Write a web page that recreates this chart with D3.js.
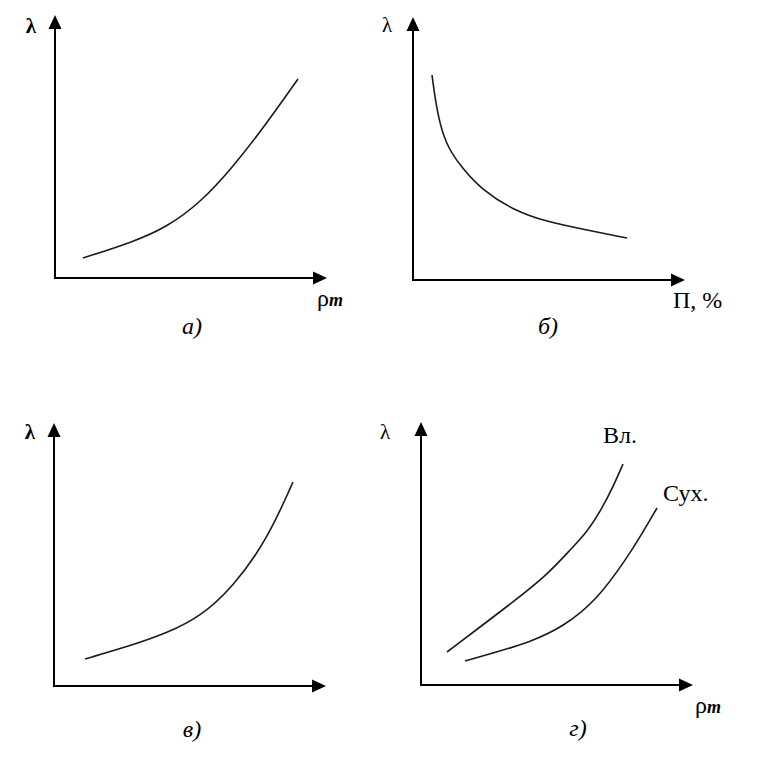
<!DOCTYPE html>
<html><head><meta charset="utf-8">
<script src="https://cdn.jsdelivr.net/npm/d3@7/dist/d3.min.js"></script>
<style>body{margin:0;background:#fff}svg{display:block}</style>
</head><body><div id="chart"></div>
<script>
// Data (arbitrary units, 0..10 on each axis)
const curveA_x = [1.12, 3.12, 4.48, 5.8, 7.12, 8.48, 9.72];
const curveA_y = [0.8, 1.44, 2.04, 3.0, 4.44, 6.2, 7.96];
const curveB_x = [0.76, 0.88, 1.08, 1.4, 1.96, 2.76, 4.0, 5.36, 6.96, 8.56];
const curveB_y = [8.2, 7.28, 6.2, 5.28, 4.48, 3.6, 2.8, 2.32, 2.0, 1.68];
const curveV_x = [1.24, 3.16, 4.52, 5.84, 7.16, 8.52, 9.56];
const curveV_y = [1.08, 1.64, 2.12, 2.76, 3.96, 5.84, 8.16];
const curveWet_x = [1.04, 2.36, 3.68, 5.04, 5.96, 6.64, 7.16, 7.68, 8.08];
const curveWet_y = [1.32, 2.32, 3.32, 4.4, 5.4, 6.12, 6.92, 7.92, 8.84];
const curveDry_x = [1.76, 3.04, 4.36, 5.68, 7.04, 8.24, 8.88, 9.44];
const curveDry_y = [0.96, 1.32, 1.72, 2.32, 3.4, 5.08, 6.12, 7.08];
const panelCaptions = ["а)", "б)", "в)", "г)"];
const yAxisLabels = ["λ", "λ", "λ", "λ"];
const seriesLabels = ["Вл.", "Сух."];

const W = 762, H = 761;
const svg = d3.select("#chart").append("svg").attr("width", W).attr("height", H);

const zip = (xs, ys) => xs.map((x, i) => [x, ys[i]]);

const panels = [
  {ox: 55, oy: 278, curves: [zip(curveA_x, curveA_y)], xLabel: "rho", caption: panelCaptions[0], capX: 192, capY: 334, lamX: 31, lamY: 33, lamBold: true, xlX: 317, xlY: 306},
  {ox: 413, oy: 280, curves: [zip(curveB_x, curveB_y)], xLabel: "P", caption: panelCaptions[1], capX: 548, capY: 334, lamX: 387, lamY: 32, lamBold: false, xlX: 673, xlY: 308},
  {ox: 54, oy: 686, curves: [zip(curveV_x, curveV_y)], xLabel: null, caption: panelCaptions[2], capX: 192, capY: 737, lamX: 30, lamY: 439, lamBold: true},
  {ox: 421, oy: 685, curves: [zip(curveWet_x, curveWet_y), zip(curveDry_x, curveDry_y)], xLabel: "rho", caption: panelCaptions[3], capX: 578, capY: 736, lamX: 385, lamY: 439, lamBold: false, xlX: 695, xlY: 713,
   series: [{t: seriesLabels[0], x: 603, y: 443}, {t: seriesLabels[1], x: 663, y: 501}]}
];

const xLen = 272, yLen = 263, unit = 25;
const serif = "'Liberation Serif', 'Times New Roman', serif";

panels.forEach((p, idx) => {
  const x = d3.scaleLinear().domain([0, 10]).range([p.ox, p.ox + 10 * unit]);
  const y = d3.scaleLinear().domain([0, 10]).range([p.oy, p.oy - 10 * unit]);
  const g = svg.append("g");

  // axes
  const tipX = p.ox + xLen, tipY = p.oy - yLen, ah = 14, hw = 6.5;
  g.append("line").attr("x1", p.ox).attr("y1", p.oy + 1).attr("x2", p.ox).attr("y2", tipY + ah - 1)
    .attr("stroke", "#000").attr("stroke-width", 2);
  g.append("line").attr("x1", p.ox - 1).attr("y1", p.oy).attr("x2", tipX - ah + 1).attr("y2", p.oy)
    .attr("stroke", "#000").attr("stroke-width", 2);
  g.append("path").attr("d", `M${p.ox},${tipY} L${p.ox - hw},${tipY + ah} L${p.ox + hw},${tipY + ah} Z`).attr("fill", "#000");
  g.append("path").attr("d", `M${tipX},${p.oy} L${tipX - ah},${p.oy - hw} L${tipX - ah},${p.oy + hw} Z`).attr("fill", "#000");

  // curves
  const line = d3.line().x(d => x(d[0])).y(d => y(d[1])).curve(d3.curveBasis);
  p.curves.forEach(c => {
    g.append("path").attr("d", line(c)).attr("fill", "none").attr("stroke", "#1a1a1a").attr("stroke-width", 1.6);
  });

  // y label λ
  g.append("text").attr("x", p.lamX).attr("y", p.lamY).attr("text-anchor", "middle")
    .attr("font-family", serif).attr("font-size", 21).attr("font-weight", p.lamBold ? "bold" : "normal")
    .text(yAxisLabels[idx]);

  // x label
  if (p.xLabel === "rho") {
    const t = g.append("text").attr("x", p.xlX).attr("y", p.xlY).attr("font-family", serif).attr("font-size", 24);
    t.append("tspan").text("ρ");
    t.append("tspan").attr("font-style", "italic").attr("font-weight", "bold").attr("font-size", 18).text("m");
  } else if (p.xLabel === "P") {
    g.append("text").attr("x", p.xlX).attr("y", p.xlY).attr("font-family", serif).attr("font-size", 24).text("П, %");
  }

  // caption
  g.append("text").attr("x", p.capX).attr("y", p.capY).attr("text-anchor", "middle")
    .attr("font-family", serif).attr("font-size", 24).attr("font-style", "italic").text(p.caption);

  if (p.series) {
    p.series.forEach(s => {
      g.append("text").attr("x", s.x).attr("y", s.y).attr("font-family", serif).attr("font-size", 24).text(s.t);
    });
  }
});
</script>
</body></html>
